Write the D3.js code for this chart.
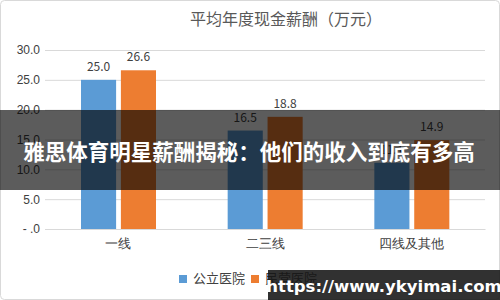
<!DOCTYPE html>
<html>
<head>
<meta charset="utf-8">
<script src="https://cdn.jsdelivr.net/npm/d3@7"></script>
<style>
  body { margin: 0; background: #fff; }
  svg { display: block; font-family: "Noto Sans CJK SC", "Noto Sans", sans-serif; }
</style>
</head>
<body>
<div id="chart"></div>
<script>
const categories = ["一线", "二三线", "四线及其他"];
const seriesNames = ["公立医院", "民营医院"];
const publicValues = [25.0, 16.5, 11.1];
const privateValues = [26.6, 18.8, 14.9];
const yTicks = [0, 5, 10, 15, 20, 25, 30];

const colors = ["#5B9BD5", "#ED7D31"];
const W = 500, H = 300;

const svg = d3.select("#chart").append("svg")
    .attr("width", W)
    .attr("height", H);

svg.append("rect")
    .attr("x", 0.5).attr("y", 0.5)
    .attr("width", W - 1).attr("height", H - 1)
    .attr("rx", 4)
    .attr("fill", "#fff")
    .attr("stroke", "#d9d9d9");

const margin = {top: 50, right: 15, bottom: 71, left: 45};
const x = d3.scaleBand().domain(categories).range([margin.left, W - margin.right]);
const xs = d3.scaleBand().domain(seriesNames).range([36, 111]).paddingInner(0.12);
const y = d3.scaleLinear().domain([0, 30]).range([H - margin.bottom, margin.top]);

// title
svg.append("text")
    .attr("x", 286).attr("y", 25)
    .attr("text-anchor", "middle")
    .attr("font-size", 16)
    .attr("fill", "#595959")
    .text("平均年度现金薪酬（万元）");

// gridlines + y labels
const yAxis = svg.append("g")
    .attr("transform", "translate(" + margin.left + ",0)")
    .call(d3.axisLeft(y).tickValues(yTicks)
        .tickSize(-(W - margin.left - margin.right))
        .tickFormat(d => d === 0 ? "- .0" : d3.format(".1f")(d)));
yAxis.select(".domain").remove();
yAxis.selectAll("line").attr("stroke", "#d9d9d9");
yAxis.selectAll("text")
    .attr("x", -5)
    .attr("font-size", 12)
    .attr("fill", "#404040");

// bars
const rows = categories.map((c, i) => ({cat: c, vals: [publicValues[i], privateValues[i]]}));
const groups = svg.append("g").selectAll("g")
    .data(rows).join("g")
    .attr("transform", d => "translate(" + x(d.cat) + ",0)");

groups.selectAll("rect")
    .data(d => d.vals.map((v, j) => ({name: seriesNames[j], v: v, j: j})))
    .join("rect")
    .attr("x", d => xs(d.name))
    .attr("y", d => y(d.v))
    .attr("width", xs.bandwidth())
    .attr("height", d => y(0) - y(d.v))
    .attr("fill", d => colors[d.j]);

groups.selectAll("text.lbl")
    .data(d => d.vals.map((v, j) => ({name: seriesNames[j], v: v})))
    .join("text")
    .attr("class", "lbl")
    .attr("x", d => xs(d.name) + xs.bandwidth() / 2)
    .attr("y", d => y(d.v) - 9)
    .attr("text-anchor", "middle")
    .attr("font-size", 12)
    .attr("fill", "#404040")
    .text(d => d3.format(".1f")(d.v));

// x labels
const xAxis = svg.append("g")
    .attr("transform", "translate(0," + y(0) + ")")
    .call(d3.axisBottom(x).tickSize(0).tickPadding(10));
xAxis.select(".domain").attr("stroke", "#d9d9d9");
xAxis.selectAll("text")
    .attr("font-size", 13)
    .attr("fill", "#404040");

// legend
const legend = svg.append("g").selectAll("g")
    .data(seriesNames).join("g")
    .attr("transform", (d, i) => "translate(" + (179 + i * 72) + ",275)");
legend.append("rect")
    .attr("width", 8).attr("height", 8)
    .attr("fill", (d, i) => colors[i]);
legend.append("text")
    .attr("x", 14).attr("y", 8)
    .attr("font-size", 13)
    .attr("fill", "#404040")
    .text(d => d);

// overlay banner
svg.append("rect")
    .attr("x", 0).attr("y", 110)
    .attr("width", W).attr("height", 80)
    .attr("fill", "rgba(0,0,0,0.64)");
svg.append("text")
    .attr("x", 249).attr("y", 150)
    .attr("text-anchor", "middle")
    .attr("dominant-baseline", "central")
    .attr("font-size", 21.5)
    .attr("font-weight", "bold")
    .attr("fill", "#fff")
    .text("雅思体育明星薪酬揭秘：他们的收入到底有多高");

// site watermark
svg.append("rect")
    .attr("x", 268).attr("y", 270)
    .attr("width", W - 268).attr("height", 30)
    .attr("fill", "rgba(20,20,20,0.88)");
svg.append("text")
    .attr("x", 384).attr("y", 286)
    .attr("text-anchor", "middle")
    .attr("dominant-baseline", "central")
    .attr("font-family", "DejaVu Sans, sans-serif")
    .attr("font-size", 16.5)
    .attr("font-weight", "bold")
    .attr("fill", "#fff")
    .text("https://www.ykyimai.com");
</script>
</body>
</html>
